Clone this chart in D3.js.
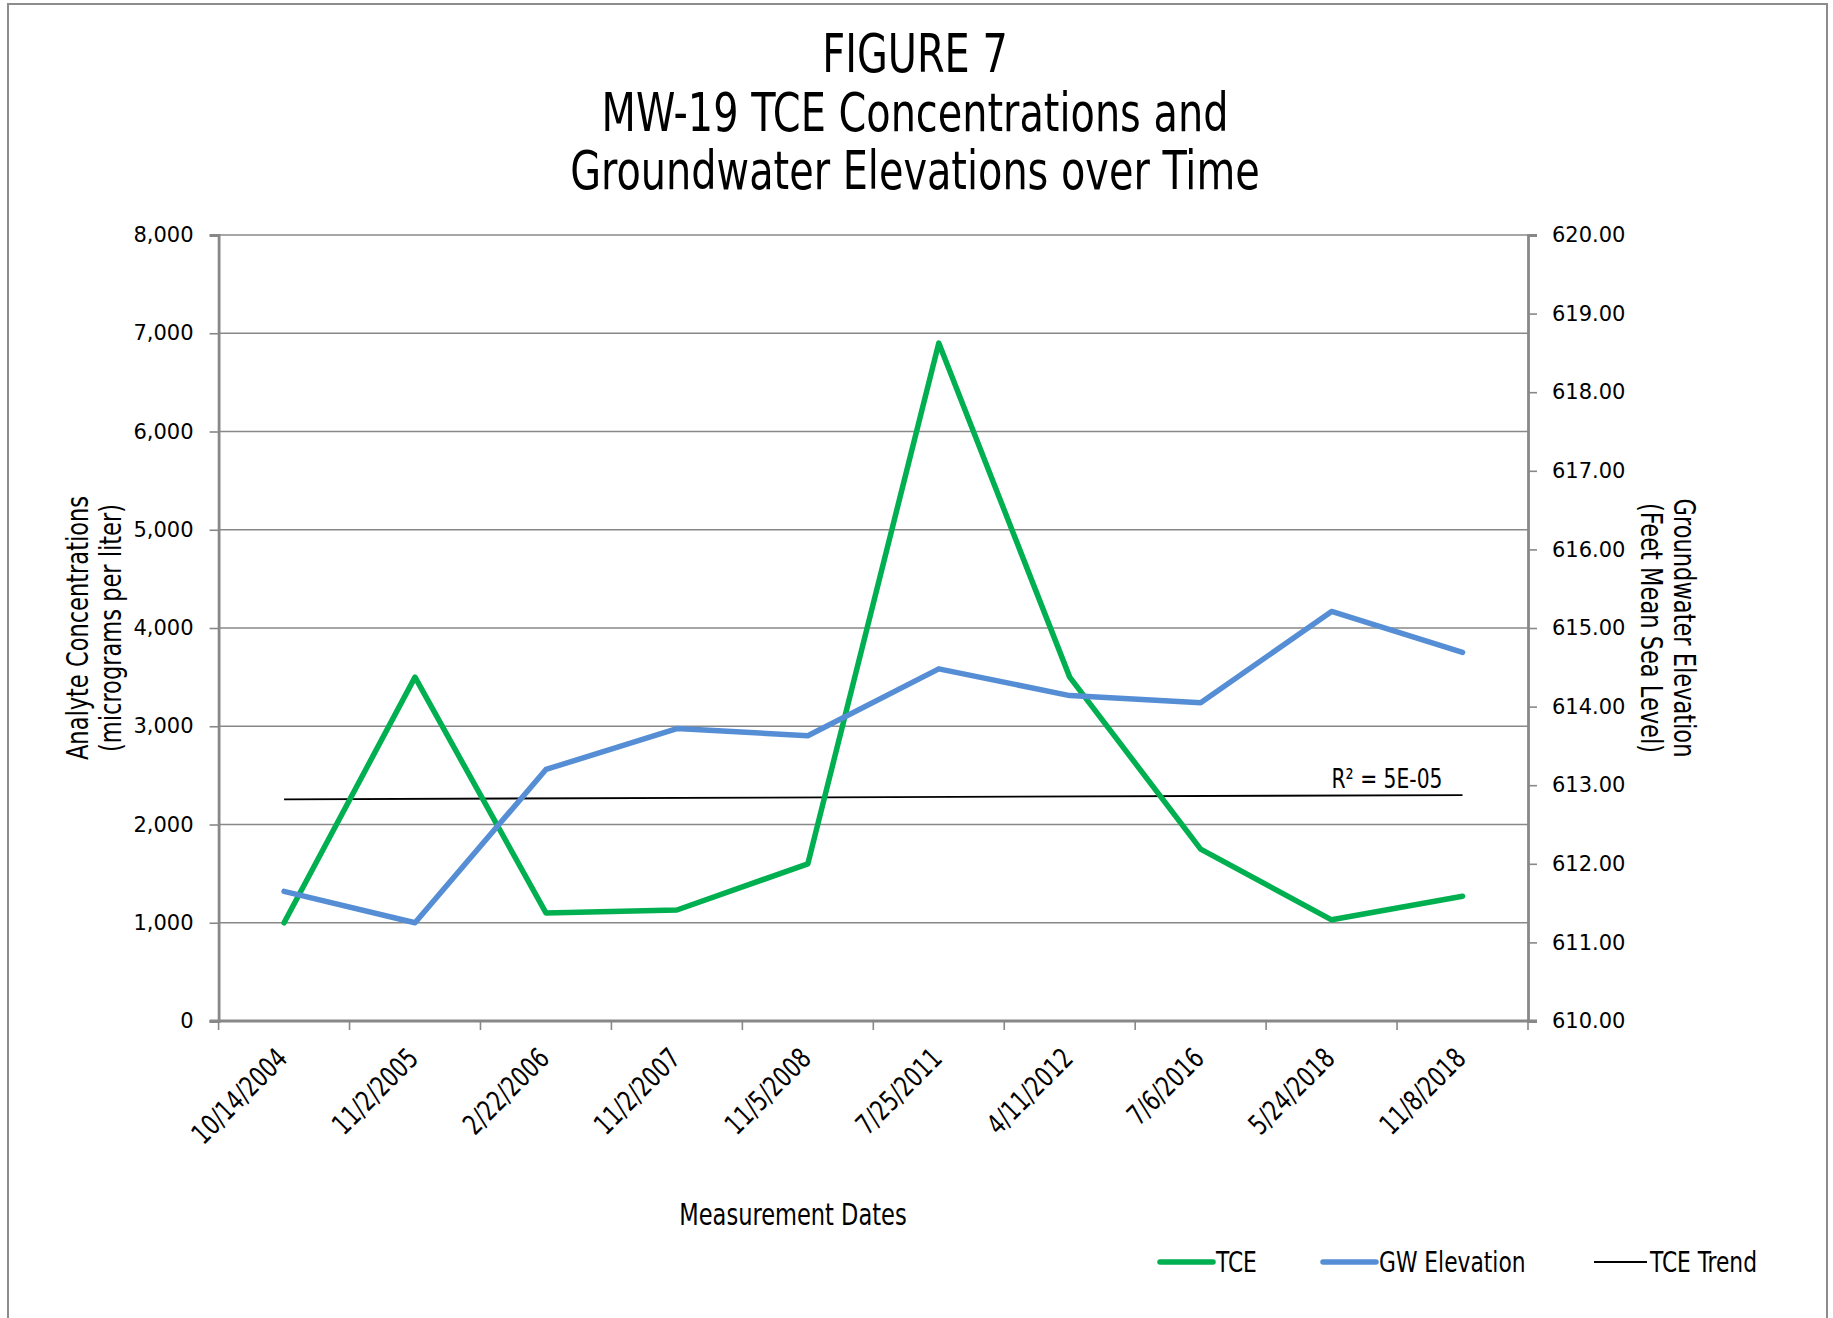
<!DOCTYPE html>
<html>
<head>
<meta charset="utf-8">
<script src="https://cdn.jsdelivr.net/npm/d3@7"></script>
<style>
  html, body { margin: 0; padding: 0; background: #fff; }
  svg { display: block; }
  .narrow { font-family: "Liberation Sans Narrow", "DejaVu Sans Condensed", "Arial Narrow", sans-serif; }
  .tick text { font-family: "DejaVu Sans", Verdana, sans-serif; }
</style>
</head>
<body>
<svg id="chart" width="1833" height="1318"></svg>
<script>
// ---- data ----
const categories = ["10/14/2004", "11/2/2005", "2/22/2006", "11/2/2007", "11/5/2008",
                    "7/25/2011", "4/11/2012", "7/6/2016", "5/24/2018", "11/8/2018"];
const tceValues = [1000, 3500, 1100, 1130, 1600, 6900, 3500, 1750, 1030, 1270];
const gwValues = [611.65, 611.25, 613.20, 613.72, 613.63, 614.48, 614.14, 614.05, 615.21, 614.69];
const leftTicks = [0, 1000, 2000, 3000, 4000, 5000, 6000, 7000, 8000];
const rightTicks = [610, 611, 612, 613, 614, 615, 616, 617, 618, 619, 620];
const titleLines = ["FIGURE 7", "MW-19 TCE Concentrations and", "Groundwater Elevations over Time"];
const trendLabel = "R² = 5E-05";

// ---- layout ----
const W = 1833, H = 1318;
const plot = { left: 218.6, right: 1528, top: 235, bottom: 1021 };
const green = "#00b050", blue = "#558ed5", grid = "#888888", axisCol = "#888888";
const SQUEEZE = 0.835;

const svg = d3.select("#chart");

function squeeze(sel, k = SQUEEZE) {
  sel.each(function () {
    const len = this.getComputedTextLength();
    d3.select(this).attr("textLength", len * k).attr("lengthAdjust", "spacingAndGlyphs");
  });
  return sel;
}

// outer border
svg.append("rect").attr("x", 8).attr("y", 4).attr("width", W - 14).attr("height", H + 20)
  .attr("fill", "#fff").attr("stroke", "#8c8c8c").attr("stroke-width", 2);

const x = d3.scaleBand().domain(categories).range([plot.left, plot.right]);
const xc = d => x(d) + x.bandwidth() / 2;
const yL = d3.scaleLinear().domain([0, 8000]).range([plot.bottom, plot.top]);
const yR = d3.scaleLinear().domain([610, 620]).range([plot.bottom, plot.top]);

// gridlines
svg.append("g").selectAll("line").data(leftTicks.filter(v => v > 0)).join("line")
  .attr("x1", plot.left).attr("x2", plot.right)
  .attr("y1", d => yL(d)).attr("y2", d => yL(d))
  .attr("stroke", grid).attr("stroke-width", 1.6);

// left axis
const gL = svg.append("g").attr("transform", `translate(${plot.left},0)`)
  .call(d3.axisLeft(yL).tickValues(leftTicks).tickFormat(d3.format(",")).tickSizeOuter(0).tickSize(9).tickPadding(16));
// right axis
const gR = svg.append("g").attr("transform", `translate(${plot.right},0)`)
  .call(d3.axisRight(yR).tickValues(rightTicks).tickFormat(d3.format(".2f")).tickSizeOuter(0).tickSize(9).tickPadding(15));
// bottom axis: ticks at category boundaries
const gB = svg.append("g").attr("transform", `translate(0,${plot.bottom})`)
  .call(d3.axisBottom(x).tickSize(0).tickFormat(""));
gB.append("g").selectAll("line").data(categories.map(c => x(c)).concat([plot.right])).join("line")
  .attr("x1", d => d).attr("x2", d => d).attr("y1", 0).attr("y2", 9)
  .attr("stroke", axisCol).attr("stroke-width", 1.6);

[gL, gR, gB].forEach(g => {
  g.select(".domain").attr("stroke", axisCol).attr("stroke-width", 2.8);
  g.selectAll(".tick line").attr("stroke", axisCol).attr("stroke-width", 1.6);
  g.selectAll(".tick text").attr("font-size", 21).attr("fill", "#000");
});
gB.select(".domain").attr("d", `M${plot.left - 9},0H${plot.right + 9}`);

// x labels rotated
svg.append("g").selectAll("text").data(categories).join("text")
  .attr("class", "narrow")
  .attr("transform", d => `translate(${xc(d) + 5},${plot.bottom + 39}) rotate(-45)`)
  .attr("text-anchor", "end")
  .attr("font-size", 28).text(d => d)
  .call(squeeze);

// trend line (least squares on category index)
const n = tceValues.length;
const idx = d3.range(n);
const mx = d3.mean(idx), my = d3.mean(tceValues);
const slope = d3.sum(idx, i => (i - mx) * (tceValues[i] - my)) / d3.sum(idx, i => (i - mx) ** 2);
const icpt = my - slope * mx;
svg.append("line")
  .attr("x1", xc(categories[0])).attr("x2", xc(categories[n - 1]))
  .attr("y1", yL(icpt)).attr("y2", yL(icpt + slope * (n - 1)))
  .attr("stroke", "#000").attr("stroke-width", 1.8);
svg.append("text").attr("class", "narrow")
  .attr("x", 1387).attr("y", 788).attr("text-anchor", "middle")
  .attr("font-size", 27).text(trendLabel).call(squeeze);

// series lines
const lineL = d3.line().x((d, i) => xc(categories[i])).y(d => yL(d));
const lineR = d3.line().x((d, i) => xc(categories[i])).y(d => yR(d));
svg.append("path").datum(tceValues).attr("d", lineL)
  .attr("fill", "none").attr("stroke", green).attr("stroke-width", 5.5)
  .attr("stroke-linejoin", "round").attr("stroke-linecap", "round");
svg.append("path").datum(gwValues).attr("d", lineR)
  .attr("fill", "none").attr("stroke", blue).attr("stroke-width", 5.5)
  .attr("stroke-linejoin", "round").attr("stroke-linecap", "round");

// title
svg.append("g").selectAll("text").data(titleLines).join("text")
  .attr("class", "narrow").attr("x", 915).attr("y", (d, i) => 72 + i * 58.5)
  .attr("text-anchor", "middle").attr("font-size", 53).text(d => d)
  .call(squeeze);

// axis titles
const leftTitle = ["Analyte Concentrations", "(micrograms per liter)"];
svg.append("g").selectAll("text").data(leftTitle).join("text")
  .attr("class", "narrow").attr("text-anchor", "middle").attr("dominant-baseline", "central")
  .attr("transform", (d, i) => `translate(${77 + i * 33},628) rotate(-90)`)
  .attr("font-size", 30).text(d => d).call(squeeze);
const rightTitle = ["Groundwater Elevation", "(Feet Mean Sea Level)"];
svg.append("g").selectAll("text").data(rightTitle).join("text")
  .attr("class", "narrow").attr("text-anchor", "middle").attr("dominant-baseline", "central")
  .attr("transform", (d, i) => `translate(${1684 - i * 33},628) rotate(90)`)
  .attr("font-size", 30).text(d => d).call(squeeze);
svg.append("text").attr("class", "narrow").attr("x", 793).attr("y", 1225)
  .attr("text-anchor", "middle").attr("font-size", 30).text("Measurement Dates").call(squeeze);

// legend
const legendItems = [
  { label: "TCE", color: green, w: 5.5, x: 1160 },
  { label: "GW Elevation", color: blue, w: 5.5, x: 1323 },
  { label: "TCE Trend", color: "#000", w: 1.8, x: 1594 }
];
const lg = svg.append("g").selectAll("g").data(legendItems).join("g")
  .attr("transform", d => `translate(${d.x},1262)`);
lg.append("line").attr("x1", 0).attr("x2", 53).attr("y1", 0).attr("y2", 0)
  .attr("stroke", d => d.color).attr("stroke-width", d => d.w)
  .attr("stroke-linecap", d => d.w > 3 ? "round" : "butt");
lg.append("text").attr("class", "narrow").attr("x", 56).attr("y", 10)
  .attr("font-size", 29).text(d => d.label).call(squeeze);
</script>
</body>
</html>
